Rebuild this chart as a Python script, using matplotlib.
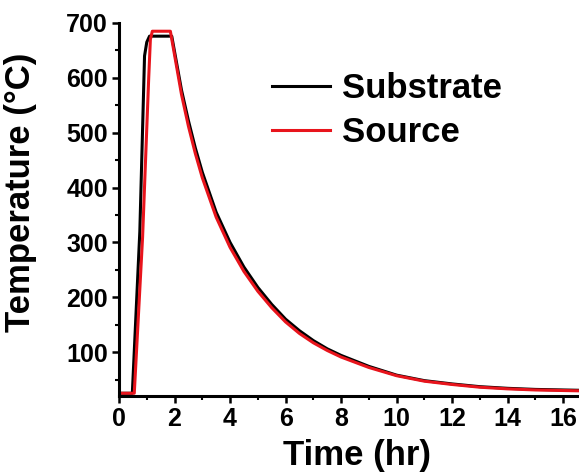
import numpy as np
import matplotlib.pyplot as plt
from matplotlib.ticker import MultipleLocator

plt.rcParams['font.family'] = ['Liberation Sans', 'DejaVu Sans']
plt.rcParams['font.weight'] = 'bold'

# Substrate temperature profile (hr, degC)
sub_time = [0.0, 0.48, 0.75, 0.92, 1.0, 1.1, 1.9, 2.0, 2.25, 2.5, 2.75, 3.0, 3.5,
            4.0, 4.5, 5.0, 5.5, 6.0, 6.5, 7.0, 7.5, 8.0, 9.0, 10.0, 11.0, 12.0,
            13.0, 14.0, 15.0, 17.0]
sub_temp = [25, 25, 320, 640, 665, 676, 676, 648, 578, 522, 472, 428, 355,
            300, 255, 218, 187, 160, 139, 121, 106, 94, 74, 58, 48, 42,
            37, 34, 32, 30]

# Source temperature profile (hr, degC)
src_time = [0.0, 0.55, 0.85, 1.07, 1.13, 1.2, 1.85, 2.0, 2.25, 2.5, 2.75, 3.0, 3.5,
            4.0, 4.5, 5.0, 5.5, 6.0, 6.5, 7.0, 7.5, 8.0, 9.0, 10.0, 11.0, 12.0,
            13.0, 14.0, 15.0, 17.0]
src_temp = [25, 25, 310, 600, 670, 685, 685, 642, 570, 512, 462, 418, 346,
            291, 247, 211, 181, 155, 134, 117, 103, 91, 72, 57, 47, 41,
            36, 33, 31, 29]

fig = plt.figure(figsize=(5.79, 4.74), dpi=100)
ax = fig.add_axes([119 / 579, 1 - 396 / 474, 472 / 579, 373 / 474])

ax.plot(sub_time, sub_temp, color='black', lw=2.2, label='Substrate')
ax.plot(src_time, src_temp, color='#e8141c', lw=2.2, label='Source')

ax.set_xlim(0, 17)
ax.set_ylim(20, 700)
ax.set_xticks(np.arange(0, 17, 2))
ax.set_yticks(np.arange(100, 701, 100))
ax.xaxis.set_minor_locator(MultipleLocator(1))
ax.yaxis.set_minor_locator(MultipleLocator(50))

for s in ['top', 'right']:
    ax.spines[s].set_visible(False)
for s in ['left', 'bottom']:
    ax.spines[s].set_linewidth(2.2)

ax.tick_params(which='major', direction='out', length=5, width=1.8, labelsize=18, pad=3)
ax.tick_params(which='minor', direction='out', length=3, width=1.5)
for lab in ax.get_xticklabels() + ax.get_yticklabels():
    lab.set_fontweight('bold')

ax.set_xlabel('Time (hr)', fontsize=25, fontweight='bold')
ax.set_ylabel('Temperature (°C)', fontsize=25, fontweight='bold')
ax.xaxis.set_label_coords(0.504, -0.115)
ax.yaxis.set_label_coords(-0.174, 0.547)

ax.legend(loc='upper left', bbox_to_anchor=(272 / 579, 1 - 72 / 474),
          bbox_transform=fig.transFigure, frameon=False,
          prop={'weight': 'bold', 'size': 25}, handlelength=1.67,
          handletextpad=0.35, borderpad=0, borderaxespad=0, labelspacing=0.33)

fig.savefig('out.png', dpi=100)
